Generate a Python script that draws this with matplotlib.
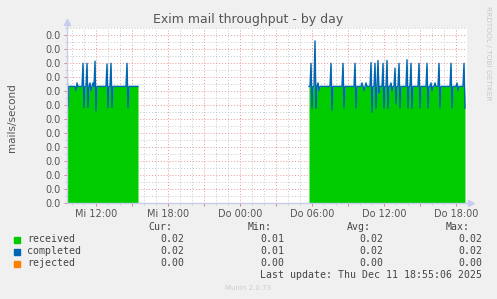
import numpy as np
import matplotlib.pyplot as plt
from matplotlib.ticker import MultipleLocator, FormatStrFormatter

W, H = 497, 299

# 5-minute samples in mails/second
# first block starts Wed 09:35, second block starts Thu 05:45 (hours since Wed 00:00)
SEG1_START = 9 + 35 / 60
SEG2_START = 29 + 45 / 60
STEP_H = 5 / 60

seg1_completed = [
    0.0203, 0.0137, 0.0167, 0.0167, 0.0167, 0.0167, 0.0167, 0.0167, 0.0167, 0.0161, 0.0172, 0.0167,
    0.0167, 0.0167, 0.0167, 0.0167, 0.0200, 0.0137, 0.0167, 0.0167, 0.0200, 0.0137, 0.0167, 0.0172,
    0.0161, 0.0167, 0.0172, 0.0167, 0.0203, 0.0132, 0.0167, 0.0167, 0.0167, 0.0167, 0.0167, 0.0167,
    0.0167, 0.0167, 0.0167, 0.0167, 0.0199, 0.0137, 0.0167, 0.0167, 0.0200, 0.0137, 0.0167, 0.0167,
    0.0167, 0.0167, 0.0167, 0.0167, 0.0167, 0.0167, 0.0167, 0.0167, 0.0167, 0.0167, 0.0167, 0.0167,
    0.0200, 0.0137, 0.0167, 0.0167, 0.0167, 0.0167, 0.0167, 0.0167, 0.0167, 0.0167, 0.0167, 0.0167,
]

seg2_completed = [
    0.0167, 0.0167, 0.0200, 0.0136, 0.0167, 0.0167, 0.0232, 0.0136, 0.0167, 0.0172, 0.0161, 0.0167,
    0.0167, 0.0167, 0.0167, 0.0167, 0.0167, 0.0167, 0.0167, 0.0167, 0.0167, 0.0167, 0.0200, 0.0133,
    0.0167, 0.0167, 0.0167, 0.0167, 0.0167, 0.0167, 0.0167, 0.0167, 0.0167, 0.0167, 0.0200, 0.0136,
    0.0167, 0.0167, 0.0167, 0.0167, 0.0167, 0.0167, 0.0167, 0.0167, 0.0167, 0.0167, 0.0200, 0.0136,
    0.0167, 0.0167, 0.0167, 0.0167, 0.0167, 0.0172, 0.0167, 0.0161, 0.0167, 0.0172, 0.0167, 0.0167,
    0.0167, 0.0167, 0.0201, 0.0130, 0.0167, 0.0167, 0.0200, 0.0136, 0.0167, 0.0204, 0.0158, 0.0167,
    0.0167, 0.0167, 0.0200, 0.0136, 0.0167, 0.0167, 0.0204, 0.0136, 0.0167, 0.0167, 0.0172, 0.0161,
    0.0167, 0.0167, 0.0193, 0.0142, 0.0167, 0.0167, 0.0200, 0.0136, 0.0167, 0.0167, 0.0167, 0.0167,
    0.0167, 0.0167, 0.0205, 0.0136, 0.0167, 0.0167, 0.0200, 0.0136, 0.0167, 0.0167, 0.0167, 0.0167,
    0.0167, 0.0167, 0.0200, 0.0136, 0.0167, 0.0167, 0.0167, 0.0167, 0.0167, 0.0167, 0.0200, 0.0136,
    0.0167, 0.0167, 0.0172, 0.0161, 0.0167, 0.0167, 0.0172, 0.0167, 0.0167, 0.0167, 0.0200, 0.0136,
    0.0167, 0.0167, 0.0167, 0.0167, 0.0167, 0.0167, 0.0167, 0.0167, 0.0167, 0.0167, 0.0200, 0.0136,
    0.0167, 0.0167, 0.0167, 0.0167, 0.0172, 0.0161, 0.0167, 0.0167, 0.0167, 0.0167, 0.0167, 0.0200,
    0.0136,
]

# received tracks completed at this resolution, rejected stays at zero
seg1_received = seg1_completed
seg2_received = seg2_completed

tick_hours = [12, 15, 18, 21, 24, 27, 30, 33, 36, 39, 42]
tick_labels = ["Mi 12:00", "", "Mi 18:00", "", "Do 00:00", "", "Do 06:00", "", "Do 12:00", "", "Do 18:00"]

series_names = ["received", "completed", "rejected"]
series_colors = ["#00CC00", "#0066B3", "#FF8000"]
cur_vals = ["0.02", "0.02", "0.00"]
min_vals = ["0.01", "0.01", "0.00"]
avg_vals = ["0.02", "0.02", "0.00"]
max_vals = ["0.02", "0.02", "0.00"]

BG = "#F0F0F0"
TXT = "#555555"


def fx(x):
    return x / W


def fy(y):
    return 1 - y / H


fig = plt.figure(figsize=(W / 100, H / 100), dpi=100, facecolor=BG)
ax = fig.add_axes([fx(67), fy(203.3), 400 / W, (203.3 - 28.3) / H])
ax.set_facecolor("white")

t1 = SEG1_START + np.arange(len(seg1_completed)) * STEP_H
t2 = SEG2_START + np.arange(len(seg2_completed)) * STEP_H

for t, rec, comp in [(t1, seg1_received, seg1_completed), (t2, seg2_received, seg2_completed)]:
    ax.fill_between(t, 0, rec, color=series_colors[0], lw=0, zorder=2)
    ax.plot(t, comp, color=series_colors[1], lw=1.0, zorder=3)
    ax.plot(t, np.zeros_like(t), color=series_colors[2], lw=0.8, zorder=1)

ax.set_xlim(SEG1_START, SEG1_START + 400 * STEP_H)
ax.set_ylim(0, 0.025)

ax.set_xticks(tick_hours)
ax.set_xticklabels(tick_labels)
ax.xaxis.set_minor_locator(MultipleLocator(1))
ax.yaxis.set_major_locator(MultipleLocator(0.002))
ax.yaxis.set_minor_locator(MultipleLocator(0.001))
ax.yaxis.set_major_formatter(FormatStrFormatter("%.1f"))

ax.set_axisbelow(True)
ax.grid(which="major", color="#E89494", lw=0.7, ls=(0, (1, 2)))
ax.grid(which="minor", color="#C8C8C8", lw=0.7, ls=(0, (1, 2)))

ax.tick_params(which="major", length=2, width=0.7, color="#E08080", labelsize=7,
               labelcolor=TXT, pad=2.5)
ax.tick_params(which="minor", length=1.5, width=0.6, color="#C8C8C8")
ax.tick_params(axis="x", pad=2)

for s in ax.spines.values():
    s.set_visible(False)
axis_col = "#C8CCEE"
ax.plot([0, 0], [0, 1.035], transform=ax.transAxes, color=axis_col, lw=1, clip_on=False, zorder=5)
ax.plot([0, 1.01], [0, 0], transform=ax.transAxes, color=axis_col, lw=1, clip_on=False, zorder=5)
ax.plot([0], [1.035], marker="^", ms=5, color=axis_col, transform=ax.transAxes, clip_on=False)
ax.plot([1.01], [0], marker=">", ms=5, color=axis_col, transform=ax.transAxes, clip_on=False)

fig.text(fx(12), fy(118), "mails/second", rotation=90, ha="center", va="center",
         fontsize=7.5, color=TXT)
fig.text(fx(248), fy(19), "Exim mail throughput - by day", ha="center", va="center",
         fontsize=9, color="#555555")
fig.text(fx(488), fy(53), "RRDTOOL / TOBI OETIKER", rotation=270, ha="center", va="center",
         fontsize=5.3, color="#C8C8C8")

# legend block
mono = dict(family="DejaVu Sans Mono", fontsize=7.1, color="#444444", va="center")
header_x = [172, 272, 371, 470]
value_x = [184, 284, 383, 482]
for x, lab in zip(header_x, ["Cur:", "Min:", "Avg:", "Max:"]):
    fig.text(fx(x), fy(227.5), lab, ha="right", **mono)

row_y = [239.5, 251.5, 263.5]
for i, name in enumerate(series_names):
    fig.patches.append(plt.Rectangle((fx(14), fy(row_y[i] + 3)), 6 / W, 6 / H,
                                     transform=fig.transFigure, color=series_colors[i]))
    fig.text(fx(27), fy(row_y[i]), name, ha="left", **mono)
    for x, vals in zip(value_x, [cur_vals, min_vals, avg_vals, max_vals]):
        fig.text(fx(x), fy(row_y[i]), vals[i], ha="right", **mono)

fig.text(fx(482), fy(275.5), "Last update: Thu Dec 11 18:55:06 2025", ha="right", **mono)
fig.text(fx(248), fy(288), "Munin 2.0.73", ha="center", va="center", fontsize=5, color="#CCCCCC")

fig.savefig("out.png", dpi=100, facecolor=BG)
